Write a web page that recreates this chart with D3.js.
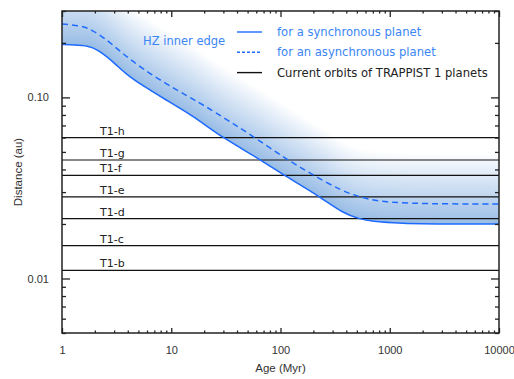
<!DOCTYPE html>
<html>
<head>
<meta charset="utf-8">
<script src="https://cdn.jsdelivr.net/npm/d3@7"></script>
<style>
  body { margin: 0; background: #fff; }
  svg { display: block; }
</style>
</head>
<body>
<div id="chart"></div>
<script>
// HZ inner edge, synchronous planet (solid)
var ageSync  = [1, 1.3, 1.73, 2.15, 3.06, 3.77, 5.36, 8.77, 14.3, 19, 29.6, 64.8, 106, 230, 373, 534, 660, 1070, 1890, 4400, 10000];
var distSync = [0.196, 0.195, 0.193, 0.183, 0.154, 0.136, 0.117, 0.0976, 0.0817, 0.0729, 0.0599, 0.0455, 0.0373, 0.0283, 0.0229, 0.0213, 0.0208, 0.0203, 0.0200, 0.0200, 0.0200];
// HZ inner edge, asynchronous planet (dashed)
var ageAsync  = [1, 1.51, 1.87, 2.48, 3.52, 5.36, 8.77, 14.3, 19.7, 34.5, 60.5, 114, 198, 376, 534, 760, 1530, 3560, 10000];
var distAsync = [0.254, 0.249, 0.236, 0.212, 0.1765, 0.145, 0.12, 0.101, 0.0908, 0.0735, 0.0591, 0.0455, 0.0373, 0.0301, 0.0283, 0.0266, 0.026, 0.0258, 0.0258];
// current orbits of TRAPPIST-1 planets
var planets   = ['T1-b', 'T1-c', 'T1-d', 'T1-e', 'T1-f', 'T1-g', 'T1-h'];
var planetA   = [0.0111, 0.0152, 0.0214, 0.0282, 0.0371, 0.0451, 0.060];
var xTicks    = [1, 10, 100, 1000, 10000];
var yTicks    = [0.01, 0.10];
var yLabels   = ['0.01', '0.10'];
var legendTxt = ['for a synchronous planet', 'for an asynchronous planet', 'Current orbits of TRAPPIST 1 planets'];

var width = 514, height = 379;
var m = {left: 62, right: 15, top: 11, bottom: 46};
var w = width - m.left - m.right, h = height - m.top - m.bottom;
var blue = '#1f6bff';

var svg = d3.select('#chart').append('svg')
    .attr('width', width).attr('height', height)
    .style('font-family', 'Liberation Sans, Arial, sans-serif');

var g = svg.append('g').attr('transform', 'translate(' + m.left + ',' + m.top + ')');

var x = d3.scaleLog().domain([1, 10000]).range([0, w]);
var y = d3.scaleLog().domain([0.005, 0.3]).range([h, 0]);

var sync = ageSync.map(function(a, i){ return {a: a, d: distSync[i]}; });
var async = ageAsync.map(function(a, i){ return {a: a, d: distAsync[i]}; });

g.append('clipPath').attr('id', 'clip')
  .append('rect').attr('width', w).attr('height', h);

// shaded band: opaque bands above the synchronous edge, widest (palest) first
var fade = g.append('g').attr('clip-path', 'url(#clip)');
var fadeMax = 72, step = 1.5;
var fadeCol = d3.scaleLinear().domain([0, fadeMax]).range(['#98bce5', '#ffffff'])
  .interpolate(d3.interpolateRgb);
for (var off = fadeMax; off > 0; off -= step) {
  (function(o){
    fade.append('path')
      .datum(sync)
      .attr('d', d3.area()
        .x(function(d){ return x(d.a); })
        .y0(function(d){ return y(d.d); })
        .y1(function(d){ return y(d.d) - o; })
        .curve(d3.curveBasis))
      .attr('fill', fadeCol(o));
  })(off);
}

// orbits
g.selectAll('.orbit').data(planetA).enter().append('line')
  .attr('x1', 0).attr('x2', w)
  .attr('y1', function(d){ return y(d); })
  .attr('y2', function(d){ return y(d); })
  .attr('stroke', '#111').attr('stroke-width', 1.2);

g.selectAll('.plab').data(planets).enter().append('text')
  .attr('x', 38)
  .attr('y', function(d, i){ return y(planetA[i]) - 3; })
  .style('font-family', 'DejaVu Sans, sans-serif')
  .style('font-size', '11px')
  .attr('fill', '#222')
  .text(function(d){ return d; });

var line = d3.line()
  .x(function(d){ return x(d.a); })
  .y(function(d){ return y(d.d); })
  .curve(d3.curveBasis);

g.append('path').datum(sync).attr('d', line)
  .attr('fill', 'none').attr('stroke', blue).attr('stroke-width', 1.5);
g.append('path').datum(async).attr('d', line)
  .attr('fill', 'none').attr('stroke', blue).attr('stroke-width', 1.5)
  .attr('stroke-dasharray', '6,4');

// axes with inward ticks on all four sides
var xMinor = [];
for (var e = 0; e < 4; e++) for (var k = 2; k <= 9; k++) xMinor.push(k * Math.pow(10, e));
var yMinor = [];
[0.001, 0.01, 0.1].forEach(function(b){
  for (var k = 1; k <= 9; k++) {
    var v = +(k * b).toPrecision(3);
    if (v >= 0.005 && v <= 0.3 && yTicks.indexOf(v) < 0) yMinor.push(v);
  }
});

function styleAxis(sel) {
  sel.select('.domain').remove();
  sel.selectAll('line').attr('stroke', '#222').attr('stroke-width', 1.3);
  sel.selectAll('text').attr('fill', '#333').style('font-size', '11px');
}

g.append('g').attr('transform', 'translate(0,' + h + ')')
  .call(d3.axisBottom(x).tickValues(xTicks).tickSize(-5).tickPadding(13).tickFormat(d3.format('d')))
  .call(styleAxis);
g.append('g').attr('transform', 'translate(0,' + h + ')')
  .call(d3.axisBottom(x).tickValues(xMinor).tickSize(-2.5).tickFormat(''))
  .call(styleAxis);
g.append('g')
  .call(d3.axisTop(x).tickValues(xTicks).tickSize(-6).tickFormat(''))
  .call(styleAxis);
g.append('g')
  .call(d3.axisTop(x).tickValues(xMinor).tickSize(-2.5).tickFormat(''))
  .call(styleAxis);

g.append('g')
  .call(d3.axisLeft(y).tickValues(yTicks).tickSize(-8).tickPadding(13)
    .tickFormat(function(d, i){ return yLabels[i]; }))
  .call(styleAxis);
g.append('g')
  .call(d3.axisLeft(y).tickValues(yMinor).tickSize(-4).tickFormat(''))
  .call(styleAxis);
g.append('g').attr('transform', 'translate(' + w + ',0)')
  .call(d3.axisRight(y).tickValues(yTicks).tickSize(-8).tickFormat(''))
  .call(styleAxis);
g.append('g').attr('transform', 'translate(' + w + ',0)')
  .call(d3.axisRight(y).tickValues(yMinor).tickSize(-4).tickFormat(''))
  .call(styleAxis);

// frame
g.append('rect').attr('width', w).attr('height', h)
  .attr('fill', 'none').attr('stroke', '#222').attr('stroke-width', 1.5);

// axis titles
svg.append('text')
  .attr('x', m.left + w / 2).attr('y', 372)
  .attr('text-anchor', 'middle').attr('fill', '#333')
  .style('font-size', '11.5px').text('Age (Myr)');
svg.append('text')
  .attr('transform', 'translate(22,' + (m.top + h / 2) + ') rotate(-90)')
  .attr('text-anchor', 'middle').attr('fill', '#333')
  .style('font-size', '11.5px').text('Distance (au)');

// annotation + legend
svg.append('text')
  .attr('x', 143).attr('y', 45)
  .style('font-family', 'DejaVu Sans, sans-serif').style('font-size', '11.5px')
  .attr('fill', '#3a86f5').text('HZ inner edge');

var leg = svg.append('g').attr('transform', 'translate(237,32)');
var legDash = [null, '3,2', null];
var legCol = [blue, blue, '#111'];
var legTxtCol = ['#3a86f5', '#3a86f5', '#222'];
legendTxt.forEach(function(t, i){
  var yy = i * 20.3;
  leg.append('line').attr('x1', 0).attr('x2', 25).attr('y1', yy).attr('y2', yy)
    .attr('stroke', legCol[i]).attr('stroke-width', 1.4)
    .attr('stroke-dasharray', legDash[i]);
  leg.append('text').attr('x', 40).attr('y', yy + 4)
    .style('font-family', 'DejaVu Sans, sans-serif').style('font-size', '11.6px')
    .attr('fill', legTxtCol[i]).text(t);
});
</script>
</body>
</html>
